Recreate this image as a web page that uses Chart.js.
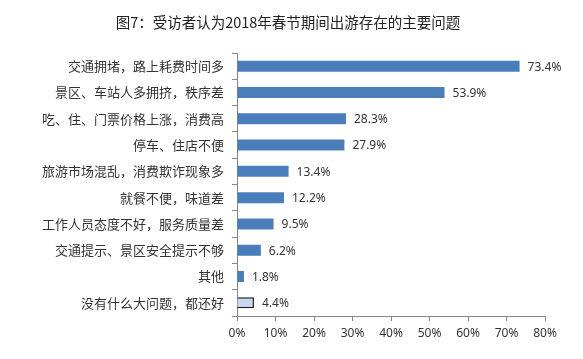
<!DOCTYPE html>
<html>
<head>
<meta charset="utf-8">
<script src="https://cdn.jsdelivr.net/npm/chart.js@4/dist/chart.umd.min.js"></script>
<style>
  html, body { margin: 0; padding: 0; background: #fff; }
  #wrap { width: 583px; height: 359px; }
</style>
</head>
<body>
<div id="wrap"><canvas id="myChart" width="583" height="359"></canvas></div>
<script>
const titleText = '图7：受访者认为2018年春节期间出游存在的主要问题';
const categories = [
    '交通拥堵，路上耗费时间多',
    '景区、车站人多拥挤，秩序差',
    '吃、住、门票价格上涨，消费高',
    '停车、住店不便',
    '旅游市场混乱，消费欺诈现象多',
    '就餐不便，味道差',
    '工作人员态度不好，服务质量差',
    '交通提示、景区安全提示不够',
    '其他',
    '没有什么大问题，都还好'
];
const values = [73.4, 53.9, 28.3, 27.9, 13.4, 12.2, 9.5, 6.2, 1.8, 4.4];
const xTicks = [0, 10, 20, 30, 40, 50, 60, 70, 80];

const FONT = '"Noto Sans CJK SC", "Noto Sans", sans-serif';
const NUM_FONT = '"Noto Sans", "Noto Sans CJK SC", sans-serif';

// last bar is styled differently
const fillColors = values.map((v, i) => i === values.length - 1 ? '#c6d9f1' : '#4a7ebb');
const edgeColors = values.map((v, i) => i === values.length - 1 ? '#1a1a1a' : '#4a7ebb');
const edgeWidths = values.map((v, i) => i === values.length - 1 ? 1.5 : 0);

// title drawn by hand so it can sit centred on the whole picture
const topTitle = {
    id: 'topTitle',
    afterDraw(chart) {
        const ctx = chart.ctx;
        ctx.save();
        ctx.font = '14.5px ' + FONT;
        ctx.fillStyle = '#222';
        ctx.textAlign = 'center';
        ctx.textBaseline = 'middle';
        ctx.fillText(titleText, 288, 22);
        ctx.restore();
    }
};

// draws the "73.4%" labels right of each bar
const valueLabels = {
    id: 'valueLabels',
    afterDatasetsDraw(chart) {
        const ctx = chart.ctx;
        const meta = chart.getDatasetMeta(0);
        ctx.save();
        ctx.font = '12px ' + NUM_FONT;
        ctx.fillStyle = '#333';
        ctx.textBaseline = 'middle';
        ctx.textAlign = 'left';
        meta.data.forEach((bar, i) => {
            ctx.fillText(values[i].toFixed(1) + '%', bar.x + 8, bar.y + 1);
        });
        ctx.restore();
    }
};

const ctx = document.getElementById('myChart').getContext('2d');
new Chart(ctx, {
    type: 'bar',
    data: {
        labels: categories,
        datasets: [{
            data: values,
            backgroundColor: fillColors,
            borderColor: edgeColors,
            borderWidth: edgeWidths,
            barPercentage: 0.42,
            categoryPercentage: 1
        }]
    },
    options: {
        indexAxis: 'y',
        responsive: false,
        animation: false,
        layout: { padding: { top: 53, right: 38, bottom: 0, left: 0 } },
        plugins: {
            legend: { display: false },
            tooltip: { enabled: false },
            title: { display: false }
        },
        scales: {
            x: {
                min: 0,
                max: 80,
                afterBuildTicks: (scale) => { scale.ticks = xTicks.map(v => ({ value: v })); },
                afterFit: (scale) => { scale.height = 43; },
                grid: { drawOnChartArea: false, drawTicks: true, tickLength: 5, color: '#868686' },
                border: { color: '#868686' },
                ticks: {
                    color: '#333',
                    font: { family: NUM_FONT, size: 12 },
                    padding: 5,
                    callback: (v) => v + '%'
                }
            },
            y: {
                afterFit: (scale) => { scale.width = 237; },
                grid: { drawOnChartArea: false, drawTicks: true, tickLength: 5, color: '#868686' },
                border: { color: '#868686' },
                ticks: {
                    color: '#333',
                    font: { family: FONT, size: 13 },
                    padding: 8
                }
            }
        }
    },
    plugins: [valueLabels, topTitle]
});
</script>
</body>
</html>
